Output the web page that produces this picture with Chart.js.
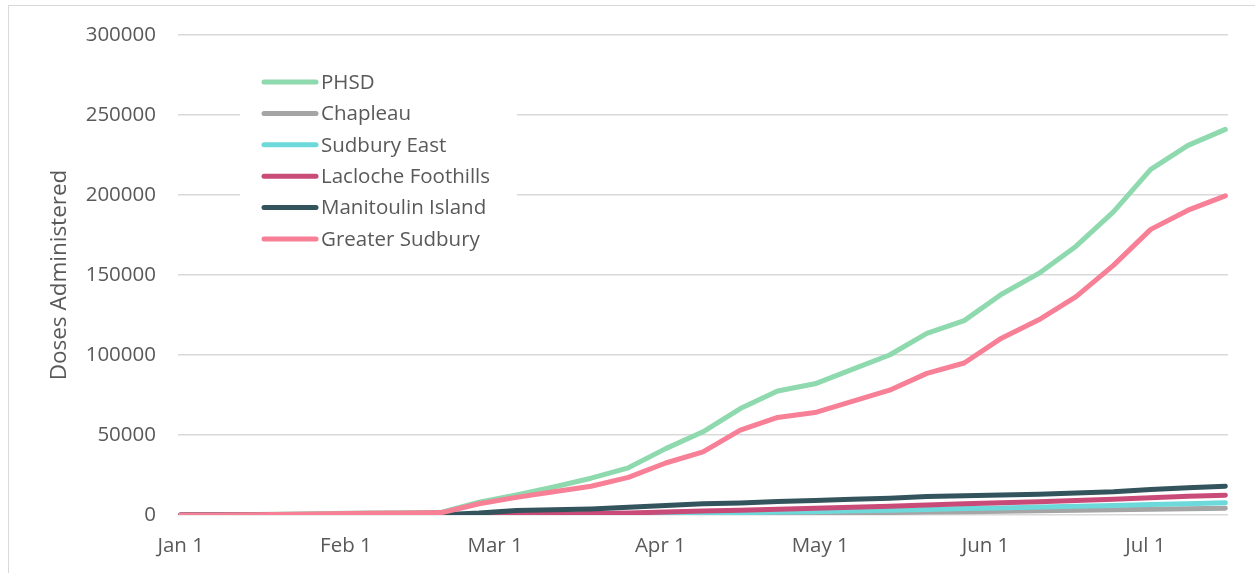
<!DOCTYPE html>
<html>
<head>
<meta charset="utf-8">
<script src="https://cdn.jsdelivr.net/npm/chart.js@4.4.1/dist/chart.umd.min.js"></script>
<style>
    body { margin: 0; background: #fff; }
    #frame {
        position: absolute; left: 8px; top: 5px;
        width: 1270px; height: 600px;
        border: 1.5px solid #D9D9D9;
    }
    #wrap { position: absolute; left: 0; top: 0; width: 1255px; height: 573px; }
</style>
</head>
<body>
<div id="frame"></div>
<div id="wrap"><canvas id="dosesChart"></canvas></div>
<script>
// day of year (Jan 1 = 0), one point per week
const weekDays = [0, 7, 14, 21, 28, 35, 42, 49, 56, 63, 70, 77, 84, 91, 98,
    105, 112, 119, 126, 133, 140, 147, 154, 161, 168, 175, 182, 189, 196];

const monthDays = [0, 31, 59, 90, 120, 151, 181];
const monthLabels = ['Jan 1', 'Feb 1', 'Mar 1', 'Apr 1', 'May 1', 'Jun 1', 'Jul 1'];

const seriesNames = ['PHSD', 'Chapleau', 'Sudbury East', 'Lacloche Foothills', 'Manitoulin Island', 'Greater Sudbury'];
const seriesColors = ['#8ED9AE', '#A5A5A5', '#6DD9DB', '#C94B78', '#33545D', '#F77F96'];

const phsd = [0, 0, 300, 600, 900, 1200, 1400, 1700, 8000, 12500, 17500, 23000, 29500,
    41500, 52000, 66500, 77500, 82000, 91000, 100000, 113500, 121500, 138000,
    151000, 168000, 189500, 216000, 231000, 241000];
const chapleau = [0, 0, 0, 0, 0, 0, 0, 0, 0, 0, 100, 200, 350, 500, 700, 850, 1000,
    1200, 1400, 1600, 1900, 2100, 2400, 2700, 3000, 3300, 3600, 3900, 4200];
const sudburyEast = [0, 0, 0, 0, 0, 0, 0, 0, 0, 0, 100, 300, 500, 800, 1100, 1400, 1800,
    2100, 2600, 3000, 3500, 4000, 4400, 5000, 5500, 6000, 6600, 7100, 7600];
const lacloche = [0, 0, 0, 0, 0, 0, 0, 0, 0, 200, 500, 900, 1300, 1800, 2500, 3000, 3600,
    4200, 4800, 5500, 6200, 7000, 7600, 8300, 9000, 9800, 10800, 11700, 12400];
const manitoulin = [0, 0, 0, 0, 0, 0, 0, 200, 1200, 2800, 3300, 3800, 4800, 6000, 7000,
    7500, 8500, 9000, 9800, 10500, 11500, 12000, 12500, 13000, 13800, 14500, 16000, 17000, 18000];
const greaterSudbury = [0, 0, 200, 500, 800, 1100, 1300, 1500, 7000, 11000, 14500, 18000, 23500,
    32500, 39500, 53000, 61000, 64000, 71000, 78000, 88500, 95000, 110500, 122000, 136500,
    156000, 178500, 190500, 199500];

const yTicks = [0, 50000, 100000, 150000, 200000, 250000, 300000];

const allSeries = [phsd, chapleau, sudburyEast, lacloche, manitoulin, greaterSudbury];
const textColor = '#595959';
const fontFamily = '"Open Sans", "Noto Sans", sans-serif';

// legend drawn inside the plot, like the spreadsheet one
const insideLegend = {
    id: 'insideLegend',
    afterDraw(chart) {
        const ctx = chart.ctx;
        const boxLeft = 240, boxTop = 62;
        const rowGap = 31.4;
        ctx.save();
        ctx.fillStyle = '#fff';
        ctx.fillRect(boxLeft, boxTop, 277, 194);
        ctx.font = '20.5px ' + fontFamily;
        ctx.textBaseline = 'middle';
        ctx.lineCap = 'round';
        chart.data.datasets.forEach((ds, i) => {
            const y = 82 + i * rowGap;
            ctx.strokeStyle = ds.borderColor;
            ctx.lineWidth = 5;
            ctx.beginPath();
            ctx.moveTo(264, y);
            ctx.lineTo(316, y);
            ctx.stroke();
            ctx.fillStyle = textColor;
            ctx.fillText(ds.label, 321, y + 1);
        });
        ctx.restore();
    }
};

function buildDatasets() {
    return seriesNames.map((name, i) => ({
        label: name,
        data: weekDays.map((d, k) => ({ x: d, y: allSeries[i][k] })),
        borderColor: seriesColors[i],
        backgroundColor: seriesColors[i],
        borderWidth: 5,
        borderCapStyle: 'round',
        borderJoinStyle: 'round',
        pointRadius: 0,
        tension: 0,
        order: seriesNames.length - i
    }));
}

new Chart(document.getElementById('dosesChart'), {
    type: 'line',
    data: { datasets: buildDatasets() },
    plugins: [insideLegend],
    options: {
        responsive: true,
        maintainAspectRatio: false,
        animation: false,
        layout: { padding: { left: 40, top: 35, right: 27, bottom: 0 } },
        plugins: {
            legend: { display: false },
            tooltip: { enabled: false }
        },
        scales: {
            x: {
                type: 'linear',
                min: -0.5,
                max: 196.5,
                afterBuildTicks: (axis) => {
                    axis.ticks = monthDays.map(v => ({ value: v }));
                },
                afterFit: (axis) => { axis.height = 58; },
                grid: { display: false, drawTicks: false },
                border: { display: false },
                ticks: {
                    autoSkip: false,
                    maxRotation: 0,
                    padding: 19,
                    color: textColor,
                    font: { family: fontFamily, size: 20.5 },
                    callback: (v) => monthLabels[monthDays.indexOf(v)]
                }
            },
            y: {
                min: 0,
                max: 300000,
                afterBuildTicks: (axis) => {
                    axis.ticks = yTicks.map(v => ({ value: v }));
                },
                afterFit: (axis) => { axis.width = 138; },
                grid: { color: '#D9D9D9', lineWidth: 1.5, drawTicks: false },
                border: { display: false },
                ticks: {
                    padding: 22,
                    color: textColor,
                    font: { family: fontFamily, size: 20.5 },
                    callback: (v) => String(v)
                },
                title: {
                    display: true,
                    text: 'Doses Administered',
                    color: textColor,
                    padding: 6,
                    font: { family: fontFamily, size: 22.5 }
                }
            }
        }
    }
});
</script>
</body>
</html>
